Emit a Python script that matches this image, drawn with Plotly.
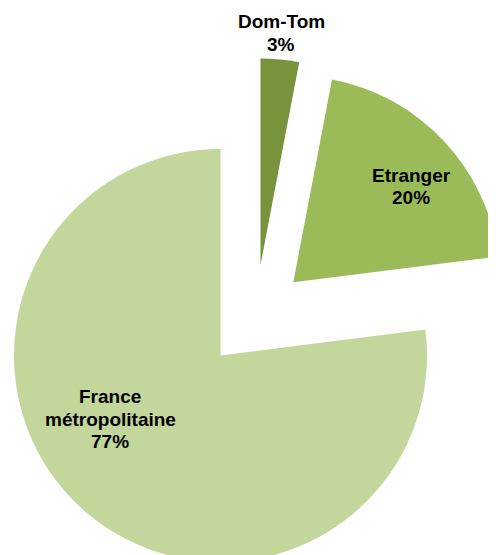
import plotly.graph_objects as go

# ---- data ----
labels = ["Dom-Tom", "Etranger", "France métropolitaine"]
values = [3, 20, 77]
label_lines = [["Dom-Tom"], ["Etranger"], ["France", "métropolitaine"]]

# ---- style / layout ----
colors = ["#77933C", "#9BBB59", "#C3D69B"]
W, H = 496, 555
OFF = 8  # page body margin offset
R = 206.5
# apex (pixel, screen coords) of each exploded slice
apex = [(260.5, 265.0), (293.3, 282.3), (220.5, 355.5)]
# text block positions (pixel x centre, first-line y centre, screen coords)
text_pos = [(281, 22), (411, 175.5), (110, 397)]
line_gap = 22
font = dict(family="Liberation Sans, Arial, sans-serif", size=19, color="#000000")

total = sum(values)
fig = go.Figure()
for i in range(len(values)):
    cx, cy = apex[i][0] - OFF, apex[i][1] - OFF
    slice_colors = [colors[j] if j == i else "rgba(0,0,0,0)" for j in range(len(values))]
    fig.add_trace(go.Pie(
        labels=labels,
        values=values,
        sort=False,
        direction="clockwise",
        rotation=0,
        marker=dict(colors=slice_colors, line=dict(width=0)),
        textinfo="none",
        hoverinfo="skip",
        showlegend=False,
        domain=dict(
            x=[max(0, (cx - R) / W), min(1, (cx + R) / W)],
            y=[max(0, 1 - (cy + R) / H), min(1, 1 - (cy - R) / H)],
        ),
    ))

annotations = []
for i in range(len(values)):
    lines = label_lines[i] + [f"{round(values[i] / total * 100)}%"]
    x0, y0 = text_pos[i][0] - OFF, text_pos[i][1] - OFF
    for k, line in enumerate(lines):
        annotations.append(dict(
            x=x0 / W, y=1 - (y0 + k * line_gap) / H,
            xref="paper", yref="paper",
            text=f"<b>{line}</b>", showarrow=False,
            xanchor="center", yanchor="middle",
            font=font,
        ))

fig.update_layout(
    width=W, height=H,
    margin=dict(l=0, r=0, t=0, b=0),
    paper_bgcolor="white", plot_bgcolor="white",
    annotations=annotations,
)
fig.write_html("out.html")
